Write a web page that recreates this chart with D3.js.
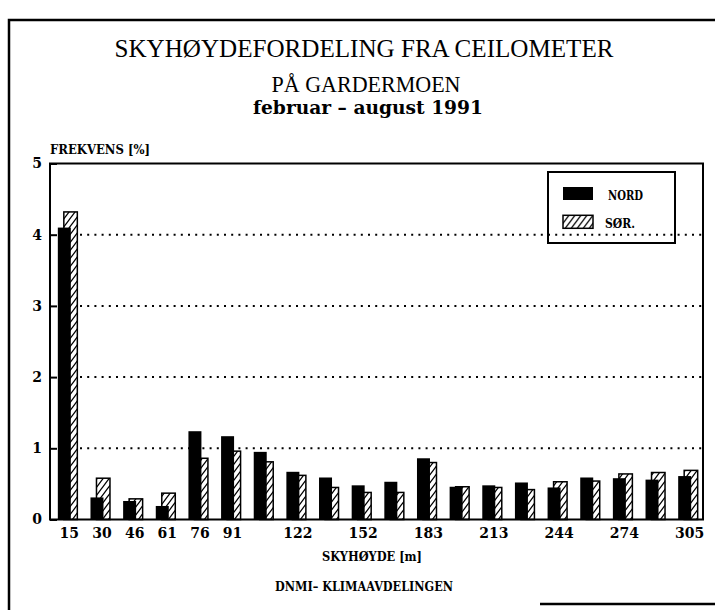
<!DOCTYPE html>
<html>
<head>
<meta charset="utf-8">
<script src="https://cdn.jsdelivr.net/npm/d3@7"></script>
<style>
  body { margin: 0; background: #fff; }
  text { font-family: "Liberation Serif", "DejaVu Serif", serif; fill: #000; }
  .bold { font-family: "DejaVu Serif", serif; font-weight: bold; }
</style>
</head>
<body>
<div id="chart"></div>
<script>
// sky height classes (m), NORD / SØR frequencies (%)
const heights = ["15", "30", "46", "61", "76", "91", "107", "122", "137", "152",
  "168", "183", "198", "213", "229", "244", "259", "274", "290", "305"];
const labelled = ["15", "30", "46", "61", "76", "91", "122", "152", "183", "213", "244", "274", "305"];
const nord = [4.10, 0.31, 0.26, 0.19, 1.24, 1.17, 0.95, 0.67, 0.59, 0.48,
  0.53, 0.86, 0.46, 0.48, 0.52, 0.45, 0.59, 0.58, 0.56, 0.61];
const sor = [4.32, 0.58, 0.29, 0.37, 0.86, 0.96, 0.81, 0.62, 0.45, 0.38,
  0.38, 0.80, 0.46, 0.45, 0.42, 0.53, 0.54, 0.64, 0.66, 0.69];
const yTicks = [0, 1, 2, 3, 4, 5];
const gridTicks = [1, 2, 3, 4];
const seriesNames = ["NORD", "SØR."];

const width = 715, height = 610;
const plotLeft = 50, plotRight = 703, plotTop = 163.5, plotBottom = 519.5;

const svg = d3.select("#chart").append("svg")
  .attr("width", width)
  .attr("height", height);

svg.append("rect").attr("width", width).attr("height", height).attr("fill", "#fff");

const defs = svg.append("defs");
const hatch = defs.append("pattern")
  .attr("id", "hatch")
  .attr("patternUnits", "userSpaceOnUse")
  .attr("width", 6)
  .attr("height", 8);
hatch.append("rect").attr("width", 6).attr("height", 8).attr("fill", "#fff");
hatch.append("path")
  .attr("d", "M0,8 L6,0 M-1.5,2 L1.5,-2 M4.5,10 L7.5,6")
  .attr("stroke", "#000")
  .attr("stroke-width", 1.3);

// outer frame (scanned sheet border)
svg.append("path")
  .attr("d", `M9,${height} L9,20 L${width},20`)
  .attr("fill", "none").attr("stroke", "#000").attr("stroke-width", 2.5);
svg.append("path")
  .attr("d", `M540,604 L${width},604`)
  .attr("fill", "none").attr("stroke", "#000").attr("stroke-width", 2.5);

// titles
svg.append("text").attr("x", 364).attr("y", 57).attr("text-anchor", "middle")
  .attr("font-size", 26).attr("textLength", 499).attr("lengthAdjust", "spacingAndGlyphs")
  .text("SKYHØYDEFORDELING FRA CEILOMETER");
svg.append("text").attr("x", 366).attr("y", 92).attr("text-anchor", "middle")
  .attr("font-size", 24).attr("textLength", 189).attr("lengthAdjust", "spacingAndGlyphs")
  .text("PÅ GARDERMOEN");
svg.append("text").attr("class", "bold")
  .attr("x", 368).attr("y", 114).attr("text-anchor", "middle")
  .attr("font-size", 18)
  .attr("textLength", 230).attr("lengthAdjust", "spacingAndGlyphs")
  .text("februar – august 1991");

const x = d3.scaleBand().domain(heights).range([plotLeft + 1, plotRight + 1]);
const y = d3.scaleLinear().domain([0, 5]).range([plotBottom, plotTop]);

// dotted grid
svg.append("g").selectAll("line")
  .data(gridTicks)
  .join("line")
  .attr("x1", 80).attr("x2", plotRight)
  .attr("y1", d => y(d)).attr("y2", d => y(d))
  .attr("stroke", "#000")
  .attr("stroke-width", 2)
  .attr("stroke-dasharray", "2,5.2");

// bars: SØR drawn first, NORD overlaps its left part
const bw = 13.5;
svg.append("g").selectAll("rect")
  .data(heights)
  .join("rect")
  .attr("x", d => x(d) + x.bandwidth() / 2 - 3.5)
  .attr("y", (d, i) => y(sor[i]))
  .attr("width", bw)
  .attr("height", (d, i) => y(0) - y(sor[i]))
  .attr("fill", "url(#hatch)")
  .attr("stroke", "#000")
  .attr("stroke-width", 1.5);

svg.append("g").selectAll("rect")
  .data(heights)
  .join("rect")
  .attr("x", d => x(d) + x.bandwidth() / 2 - 9.5)
  .attr("y", (d, i) => y(nord[i]))
  .attr("width", bw - 0.5)
  .attr("height", (d, i) => y(0) - y(nord[i]))
  .attr("fill", "#000");

// plot frame
svg.append("path")
  .attr("d", `M${plotLeft},${plotBottom} L${plotLeft},${plotTop} L${plotRight},${plotTop} L${plotRight},${plotBottom} Z`)
  .attr("fill", "none").attr("stroke", "#000").attr("stroke-width", 2);

// y axis
const yAxis = svg.append("g")
  .attr("transform", `translate(${plotLeft},0)`)
  .call(d3.axisLeft(y).tickValues(yTicks).tickFormat(d3.format("d"))
    .tickSizeInner(-7).tickSizeOuter(0).tickPadding(8));
yAxis.select(".domain").remove();
yAxis.selectAll("line").attr("stroke", "#000").attr("stroke-width", 2);
yAxis.selectAll("text")
  .attr("class", "bold")
  .attr("font-family", null)
  .attr("font-size", 14);

// x axis
const xAxis = svg.append("g")
  .attr("transform", `translate(2,${plotBottom})`)
  .call(d3.axisBottom(x).tickSize(0).tickPadding(9)
    .tickFormat(d => labelled.includes(d) ? d : ""));
xAxis.select(".domain").remove();
xAxis.selectAll("text")
  .attr("class", "bold")
  .attr("font-family", null)
  .attr("font-size", 14);

// axis titles
svg.append("text").attr("class", "bold")
  .attr("x", 50).attr("y", 154)
  .attr("font-size", 12)
  .attr("textLength", 100).attr("lengthAdjust", "spacingAndGlyphs")
  .text("FREKVENS [%]");
svg.append("text").attr("class", "bold")
  .attr("x", 372).attr("y", 561).attr("text-anchor", "middle")
  .attr("font-size", 12)
  .attr("textLength", 100).attr("lengthAdjust", "spacingAndGlyphs")
  .text("SKYHØYDE [m]");
svg.append("text").attr("class", "bold")
  .attr("x", 364).attr("y", 591).attr("text-anchor", "middle")
  .attr("font-size", 12)
  .attr("textLength", 178).attr("lengthAdjust", "spacingAndGlyphs")
  .text("DNMI– KLIMAAVDELINGEN");

// legend
const legend = svg.append("g");
legend.append("rect")
  .attr("x", 548).attr("y", 172).attr("width", 127).attr("height", 71)
  .attr("fill", "none").attr("stroke", "#000").attr("stroke-width", 2);
const items = legend.selectAll("g.item")
  .data(seriesNames)
  .join("g")
  .attr("transform", (d, i) => `translate(563,${187 + i * 28.3})`);
items.append("rect")
  .attr("width", 30).attr("height", 13)
  .attr("fill", (d, i) => i === 0 ? "#000" : "url(#hatch)")
  .attr("stroke", "#000").attr("stroke-width", (d, i) => i === 0 ? 0 : 1.5);
items.append("text")
  .attr("class", "bold")
  .attr("x", (d, i) => i === 0 ? 45 : 42)
  .attr("y", 13)
  .attr("font-size", 12)
  .attr("textLength", (d, i) => i === 0 ? 35 : 30)
  .attr("lengthAdjust", "spacingAndGlyphs")
  .text(d => d);
</script>
</body>
</html>
